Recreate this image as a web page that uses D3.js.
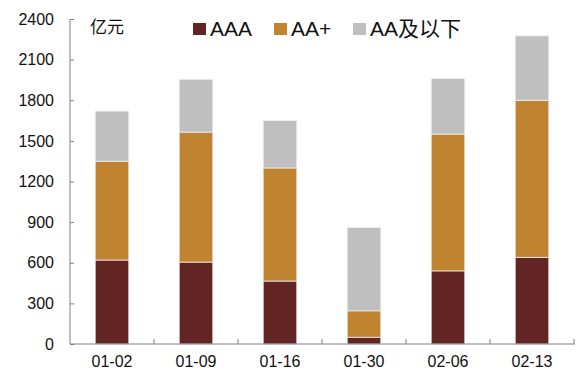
<!DOCTYPE html>
<html>
<head>
<meta charset="utf-8">
<script src="https://cdn.jsdelivr.net/npm/d3@7"></script>
<style>
  body { margin: 0; background: #fff; }
  svg text { font-family: "Liberation Sans", "Noto Sans CJK SC", sans-serif; }
</style>
</head>
<body>
<div id="chart"></div>
<script>
var categories = ["01-02", "01-09", "01-16", "01-30", "02-06", "02-13"];
var seriesNames = ["AAA", "AA+", "AA及以下"];
var aaa = [620, 605, 465, 50, 540, 640];
var aaPlus = [730, 960, 835, 195, 1010, 1160];
var aaBelow = [370, 390, 350, 615, 410, 475];
var yTicks = [0, 300, 600, 900, 1200, 1500, 1800, 2100, 2400];
var colors = ["#632523", "#c0832f", "#bfbfbf"];

var width = 588, height = 372;
var margin = {left: 70, right: 14, top: 19, bottom: 28};

var svg = d3.select("#chart").append("svg")
    .attr("width", width)
    .attr("height", height);

var x = d3.scaleBand()
    .domain(categories)
    .range([margin.left, width - margin.right])
    .paddingInner(0.6)
    .paddingOuter(0.3);

var y = d3.scaleLinear()
    .domain([0, 2400])
    .range([height - margin.bottom, margin.top]);

var table = categories.map(function(c, i){
    return {cat: c, AAA: aaa[i], "AA+": aaPlus[i], "AA及以下": aaBelow[i]};
});
var stacked = d3.stack().keys(seriesNames)(table);

svg.append("g").selectAll("g")
    .data(stacked)
    .enter()
    .append("g")
    .attr("fill", function(d, i){ return colors[i]; })
    .selectAll("rect")
    .data(function(d){ return d; })
    .enter()
    .append("rect")
    .attr("x", function(d){ return x(d.data.cat); })
    .attr("width", x.bandwidth())
    .attr("y", function(d){ return y(d[1]); })
    .attr("height", function(d){ return y(d[0]) - y(d[1]); })
    .attr("stroke", "#eeeeee")
    .attr("stroke-width", 0.8);

// y axis
var yAxis = svg.append("g")
    .attr("transform", "translate(" + margin.left + ",0)")
    .call(d3.axisRight(y).tickValues(yTicks).tickSize(4).tickFormat(d3.format("d")));
yAxis.select(".domain").attr("stroke", "#808080").attr("d", "M0," + y(2400) + "V" + y(0));
yAxis.selectAll(".tick line").attr("stroke", "#808080");
yAxis.selectAll(".tick text")
    .attr("x", -16)
    .attr("text-anchor", "end")
    .attr("font-size", 16)
    .attr("fill", "#111");

// x axis
var step = x.step();
var xAxis = svg.append("g")
    .attr("transform", "translate(0," + y(0) + ")");
xAxis.append("line")
    .attr("x1", margin.left).attr("x2", width - margin.right + 1)
    .attr("stroke", "#808080");
xAxis.selectAll(".sep")
    .data(categories)
    .enter()
    .append("line")
    .attr("x1", function(d){ return x(d) - x.bandwidth() * 0.75 + step; })
    .attr("x2", function(d){ return x(d) - x.bandwidth() * 0.75 + step; })
    .attr("y1", 0).attr("y2", -5)
    .attr("stroke", "#808080");
xAxis.selectAll(".lbl")
    .data(categories)
    .enter()
    .append("text")
    .attr("x", function(d){ return x(d) + x.bandwidth() / 2; })
    .attr("y", 23)
    .attr("text-anchor", "middle")
    .attr("font-size", 16)
    .attr("fill", "#111")
    .text(function(d){ return d; });

// unit
svg.append("text")
    .attr("x", 90).attr("y", 33)
    .attr("font-size", 17)
    .attr("font-family", "Noto Sans CJK SC")
    .attr("fill", "#111")
    .text("亿元");

// legend
var legendX = [193, 274, 353];
var legend = svg.append("g").selectAll("g")
    .data(seriesNames)
    .enter()
    .append("g")
    .attr("transform", function(d, i){ return "translate(" + legendX[i] + ",0)"; });
legend.append("rect")
    .attr("y", 23).attr("width", 13).attr("height", 12)
    .attr("fill", function(d, i){ return colors[i]; });
legend.append("text")
    .attr("x", 17).attr("y", 36)
    .attr("font-size", 21)
    .attr("fill", "#111")
    .text(function(d){ return d; });
</script>
</body>
</html>
